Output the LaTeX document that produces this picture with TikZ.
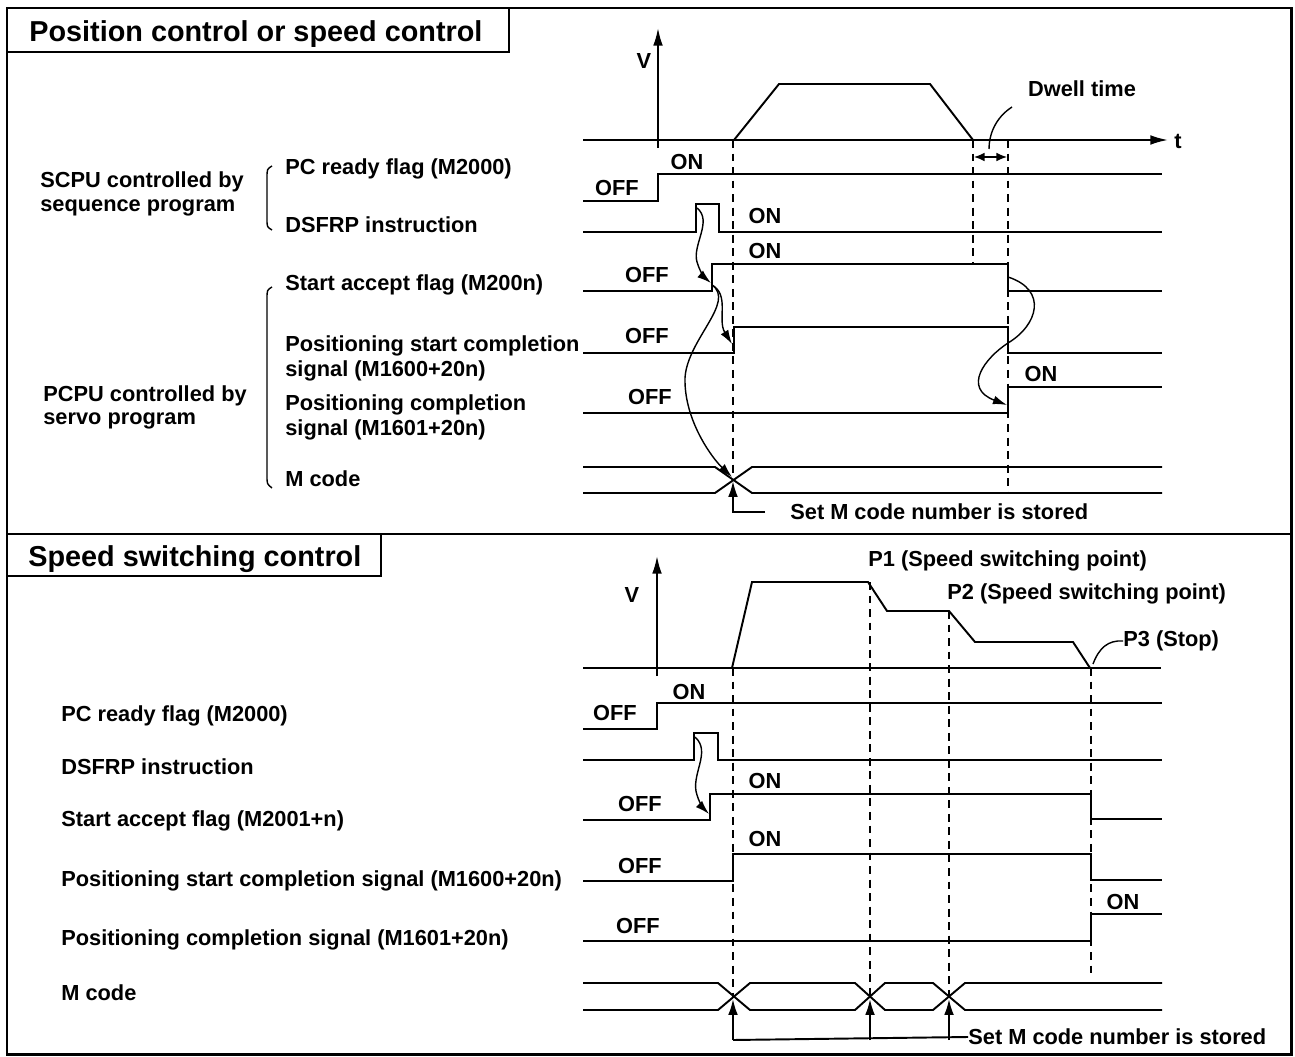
\documentclass[tikz,border=0pt]{standalone}
\usepackage{fontspec}
\setmainfont{Liberation Sans}
\usetikzlibrary{arrows.meta, positioning}

\tikzset{
  lbl/.style={anchor=west, inner sep=0pt, font=\fontsize{12.4}{15}\selectfont\bfseries},
  onoff/.style={inner sep=0pt, font=\fontsize{12.4}{15}\selectfont\bfseries},
  ttl/.style={anchor=west, inner sep=0pt, font=\fontsize{16.4}{19}\selectfont\bfseries},
  sig/.style={line width=1.1pt},
  guide/.style={line width=0.9pt, dash pattern=on 4.5pt off 3.2pt},
  cause/.style={line width=0.8pt, -{Latex[length=8pt,width=5pt]}},
  up/.style={line width=1.1pt, -{Latex[length=9pt,width=5.5pt]}},
}

\begin{document}
\begin{tikzpicture}[x=0.02cm, y=-0.02cm]
	\useasboundingbox (0,0) rectangle (1295,1057);
	% Frames and titles:
	\draw[line width=1.7pt] (7,8) rectangle (1291,1054);
	\draw[line width=1.3pt] (7,534) -- (1291,534);
	\draw[line width=1pt] (7,52) -| (509,8);
	\draw[line width=1pt] (7,576) -| (381,534);
	\node[ttl](T1) at (29,34){Position control or speed control};
	\node[ttl](T2) at (28,559){Speed switching control};
	% Upper chart, left texts:
	\node[lbl](S1) at (40,182){SCPU controlled by};
	\node[lbl](S2) at (40,208){sequence program};
	\node[lbl](P1) at (43,396){PCPU controlled by};
	\node[lbl](P2) at (43,421){servo program};
	\draw[line width=0.8pt] (272,166) .. controls (267,169) .. (267,178) -- (267,219) .. controls (267,227) .. (272,230);
	\draw[line width=0.8pt] (272,287) .. controls (267,290) .. (267,299) -- (267,476) .. controls (267,484) .. (272,488);
	\node[lbl](aRdy) at (285,169){PC ready flag (M2000)};
	\node[lbl](aDsf) at (285,225){DSFRP instruction};
	\node[lbl](aAcc) at (285,285){Start accept flag (M200n)};
	\node[lbl](aSt1) at (285,346){Positioning start completion};
	\node[lbl](aSt2) at (285,371){signal (M1600+20n)};
	\node[lbl](aCp1) at (285,405){Positioning completion};
	\node[lbl](aCp2) at (285,430){signal (M1601+20n)};
	\node[lbl](aMc) at (285,479){M code};
	% Upper chart, speed:
	\draw[sig, -{Latex[length=10pt,width=5.5pt]}] (658,148) -- (658,28);
	\node[onoff](aV) at (644,61){V};
	\draw[sig, -{Latex[length=10pt,width=5.5pt]}] (583,140) -- (1168,140);
	\node[onoff](aT) at (1178,141){t};
	\draw[sig] (734,140) -- (779,84) -- (930,84) -- (973,140);
	\node[onoff](dwell) at (1082,89){Dwell time};
	\draw[line width=0.8pt] (1012,107) .. controls (995,118) and (989,135) .. (989,149);
	\draw[line width=0.9pt, {Latex[length=6pt,width=5pt]}-{Latex[length=6pt,width=5pt]}] (974,157) -- (1007,157);
	% Upper chart, signals:
	\draw[sig] (583,201) -- (658,201) -- (658,174) -- (1162,174);
	\draw[sig] (583,232) -- (696,232) -- (696,204) -- (719,204) -- (719,232) -- (1162,232);
	\draw[sig] (583,291) -- (712,291) -- (712,264) -- (1008,264) -- (1008,291) -- (1162,291);
	\draw[sig] (583,353) -- (734,353) -- (734,327) -- (1008,327) -- (1008,353) -- (1162,353);
	\draw[sig] (583,413) -- (1008,413) -- (1008,387) -- (1162,387);
	\draw[sig] (583,467) -- (715,467) -- (752,493) -- (1162,493);
	\draw[sig] (583,493) -- (715,493) -- (752,467) -- (1162,467);
	\draw[guide] (733,140) -- (733,478);
	\draw[guide] (973,140) -- (973,264);
	\draw[guide] (1008,140) -- (1008,493);
	\node[onoff] at (687,162){ON};
	\node[onoff] at (617,188){OFF};
	\node[onoff] at (765,216){ON};
	\node[onoff] at (765,251){ON};
	\node[onoff] at (647,275){OFF};
	\node[onoff] at (647,336){OFF};
	\node[onoff] at (650,397){OFF};
	\node[onoff] at (1041,374){ON};
	% Upper chart, causes:
	\coordinate (aPulse) at (697,208);
	\coordinate (aRise) at (711,283);
	\coordinate (aEdge) at (712,285);
	\coordinate (aStart) at (732,344);
	\coordinate (aCross) at (732,477);
	\coordinate (aFall) at (1008,277);
	\coordinate (aDone) at (1007,405);
	\draw[cause] (aPulse) .. controls (713,221) and (692,245) .. (697,262) .. controls (700,272) and (705,278) .. (aRise);
	\draw[cause] (aEdge) .. controls (730,295) and (717,320) .. (aStart);
	\draw[cause] (aEdge) .. controls (736,302) and (687,340) .. (685,378) .. controls (684,420) and (712,458) .. (aCross);
	\draw[cause] (aFall) .. controls (1048,290) and (1038,325) .. (1008,343) .. controls (985,358) and (962,388) .. (aDone);
	\node[lbl](setA) at (790,512){Set M code number is stored};
	\coordinate (setAend) at (765,512);
	\draw[up] (setAend) -| (733,481);
	% Lower chart, left texts:
	\node[lbl](bRdy) at (61,716){PC ready flag (M2000)};
	\node[lbl](bDsf) at (61,767){DSFRP instruction};
	\node[lbl](bAcc) at (61,821){Start accept flag (M2001+n)};
	\node[lbl](bSt) at (61,881){Positioning start completion signal (M1600+20n)};
	\node[lbl](bCp) at (61,940){Positioning completion signal (M1601+20n)};
	\node[lbl](bMc) at (61,993){M code};
	% Lower chart, speed:
	\draw[sig, -{Latex[length=10pt,width=5.5pt]}] (657,676) -- (657,556);
	\node[onoff](bV) at (632,595){V};
	\draw[sig] (583,668) -- (1161,668);
	\draw[sig] (732,668) -- (752,582) -- (868,582) -- (887,611) -- (949,611) -- (975,642) -- (1073,642) -- (1090,668);
	\node[lbl](bP1) at (868,561){P1 (Speed switching point)};
	\node[lbl](bP2) at (947,594){P2 (Speed switching point)};
	\node[lbl](bP3) at (1123,641){P3 (Stop)};
	\draw[line width=0.8pt] (1093,664) .. controls (1099,648) and (1108,640) .. (bP3.west);
	% Lower chart, signals:
	\draw[sig] (583,729) -- (657,729) -- (657,703) -- (1162,703);
	\draw[sig] (583,760) -- (694,760) -- (694,733) -- (718,733) -- (718,760) -- (1162,760);
	\draw[sig] (583,820) -- (710,820) -- (710,794) -- (1091,794) -- (1091,819) -- (1162,819);
	\draw[sig] (583,881) -- (733,881) -- (733,854) -- (1091,854) -- (1091,880) -- (1162,880);
	\draw[sig] (583,941) -- (1091,941) -- (1091,914) -- (1162,914);
	\draw[sig] (583,983) -- (718,983) -- (750,1010) -- (855,1010) -- (885,983) -- (933,983) -- (965,1010) -- (1162,1010);
	\draw[sig] (583,1010) -- (718,1010) -- (750,983) -- (855,983) -- (885,1010) -- (933,1010) -- (965,983) -- (1162,983);
	\draw[guide] (733,668) -- (733,997);
	\draw[guide] (870,582) -- (870,997);
	\draw[guide] (949,611) -- (949,997);
	\draw[guide] (1091,668) -- (1091,973);
	\node[onoff] at (689,692){ON};
	\node[onoff] at (615,713){OFF};
	\node[onoff] at (765,781){ON};
	\node[onoff] at (640,804){OFF};
	\node[onoff] at (765,839){ON};
	\node[onoff] at (640,866){OFF};
	\node[onoff] at (638,926){OFF};
	\node[onoff] at (1123,902){ON};
	% Lower chart, causes:
	\coordinate (bPulse) at (695,737);
	\coordinate (bRise) at (709,814);
	\draw[cause] (bPulse) .. controls (712,752) and (690,775) .. (697,795) .. controls (700,805) and (705,810) .. (bRise);
	\node[lbl](setB) at (968,1037){Set M code number is stored};
	\draw[sig] (733,1040) -- (setB.west);
	\foreach \px in {733,870,949}
		\draw[up] (\px,1040) -- (\px,999);
\end{tikzpicture}
\end{document}
